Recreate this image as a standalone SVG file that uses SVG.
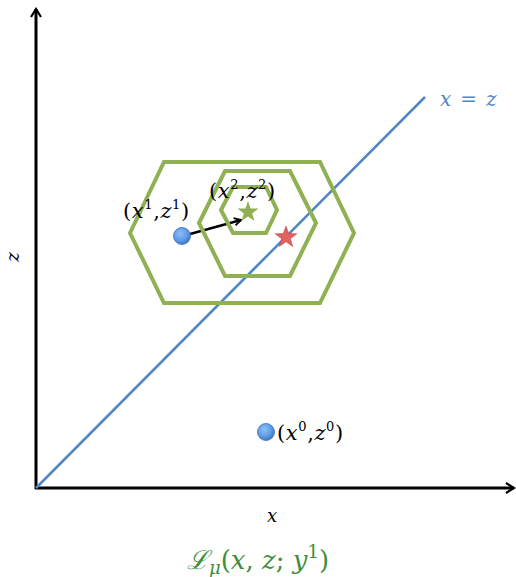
<svg xmlns="http://www.w3.org/2000/svg" width="516" height="577" viewBox="0 0 516 577">
<style>
.hex{fill:none;stroke:#8fb153;stroke-width:4;stroke-linejoin:miter}
.ax{stroke:#000;stroke-width:3;fill:none}
.m{font-family:"DejaVu Serif","Liberation Serif",serif;fill:#000}
.i{font-style:italic}
.p{font-size:21px;letter-spacing:0.6px}
.s{font-size:13px}
</style>
<defs>
<marker id="ah" viewBox="0 0 12 12" refX="10" refY="6" markerWidth="12" markerHeight="12" markerUnits="userSpaceOnUse" orient="auto">
<path d="M2,1 L10,6 L2,11" fill="none" stroke="#000" stroke-width="2.2"/>
</marker>
<marker id="ah2" viewBox="0 0 12 12" refX="10" refY="6" markerWidth="10" markerHeight="10" markerUnits="userSpaceOnUse" orient="auto">
<path d="M2,1.5 L10,6 L2,10.5" fill="none" stroke="#000" stroke-width="2.2"/>
</marker>
<radialGradient id="bg" cx="0.4" cy="0.35" r="0.7">
<stop offset="0" stop-color="#8fc0f5"/>
<stop offset="0.6" stop-color="#5c9be6"/>
<stop offset="1" stop-color="#3a70bf"/>
</radialGradient>
</defs>
<g id="connectors">
<line class="ax" x1="36" y1="489" x2="36" y2="9" marker-end="url(#ah)"/>
<line class="ax" x1="35" y1="488" x2="514" y2="488" marker-end="url(#ah)"/>
<line x1="36" y1="488" x2="425" y2="97" stroke="#4f86c6" stroke-width="2.5"/>
<line x1="190" y1="234" x2="241" y2="220" stroke="#000" stroke-width="2.5" marker-end="url(#ah2)"/>
</g>
<g id="hex-outer"><polygon class="hex" points="130,233 164,162 320,162 354,233 320,303 164,303"/></g>
<g id="hex-middle"><polygon class="hex" points="199,223 225,171 290,171 316,223 290,276 225,276"/></g>
<g id="hex-inner"><polygon class="hex" points="221,210 233,187 266,187 277,210 266,233 233,233"/></g>
<g id="star-green"><polygon fill="#8fb153" points="248,201 250.6,208.4 258.5,208.6 252.2,213.4 254.5,221 248,216.5 241.5,221 243.8,213.4 237.5,208.6 245.4,208.4"/></g>
<g id="star-red"><polygon fill="#e0625f" stroke="#c84a48" stroke-width="0.6" points="286,226 288.7,233.6 296.8,233.8 290.4,238.7 292.7,246.4 286,241.8 279.3,246.4 281.6,238.7 275.2,233.8 283.3,233.6"/></g>
<g id="point1"><circle cx="182" cy="236" r="8.5" fill="url(#bg)" stroke="#3f6fb5" stroke-width="0.8"/>
<text class="m p" x="123" y="218">(<tspan class="i">x</tspan><tspan class="s" dy="-9">1</tspan><tspan dy="9">,</tspan><tspan class="i">z</tspan><tspan class="s" dy="-9">1</tspan><tspan dy="9">)</tspan></text></g>
<g id="point2"><text class="m p" x="209" y="198">(<tspan class="i">x</tspan><tspan class="s" dy="-9">2</tspan><tspan dy="9">,</tspan><tspan class="i">z</tspan><tspan class="s" dy="-9">2</tspan><tspan dy="9">)</tspan></text></g>
<g id="point0"><circle cx="266" cy="432" r="8.5" fill="url(#bg)" stroke="#3f6fb5" stroke-width="0.8"/>
<text class="m p" x="277" y="440">(<tspan class="i">x</tspan><tspan class="s" dy="-9">0</tspan><tspan dy="9">,</tspan><tspan class="i">z</tspan><tspan class="s" dy="-9">0</tspan><tspan dy="9">)</tspan></text></g>
<g id="labels">
<text class="m" x="440" y="106" font-size="20" style="fill:#4f86c6"><tspan class="i">x</tspan><tspan dx="9">=</tspan><tspan class="i" dx="9">z</tspan></text>
<text class="m i" x="0" y="0" font-size="18" transform="translate(19,257) rotate(-90)" text-anchor="middle">z</text>
<text class="m i" x="272" y="522" font-size="18" text-anchor="middle">x</text>
<text class="m" x="187" y="569" font-size="26" style="fill:#3e8e3e"><tspan class="i">ℒ</tspan><tspan class="i" font-size="18" dy="5">μ</tspan><tspan dy="-5">(</tspan><tspan class="i">x</tspan>, <tspan class="i">z</tspan>; <tspan class="i">y</tspan><tspan font-size="18" dy="-11">1</tspan><tspan dy="11">)</tspan></text>
</g>
</svg>
